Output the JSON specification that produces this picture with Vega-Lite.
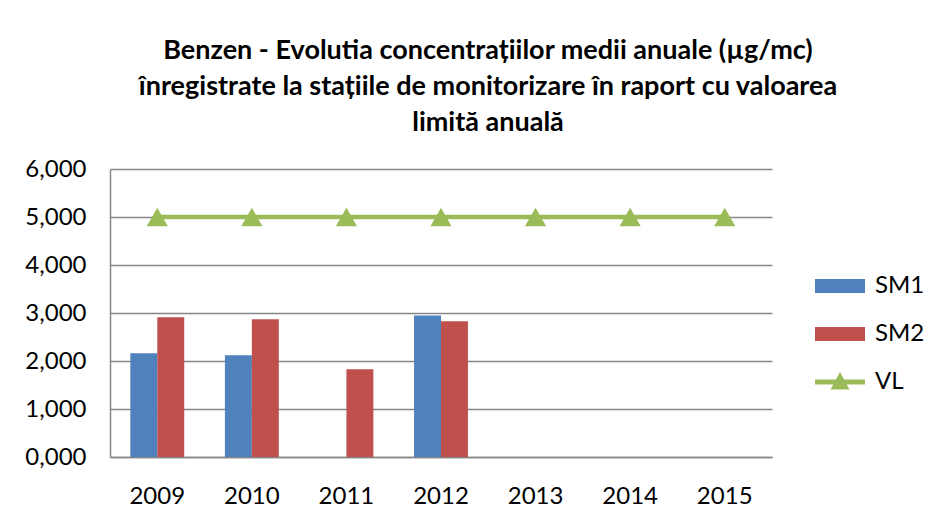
{
  "$schema": "https://vega.github.io/schema/vega-lite/v6.json",
  "autosize": {"type": "none"},
  "width": 662,
  "height": 288,
  "padding": {"left": 110, "top": 169, "right": 162, "bottom": 62},
  "background": "white",
  "title": {
    "text": ["Benzen - Evolutia concentrațiilor medii anuale (µg/mc)", "înregistrate la stațiile de monitorizare în raport cu valoarea", "limită anuală"],
    "font": "Lato",
    "fontSize": 27,
    "fontWeight": "bold",
    "color": "black",
    "lineHeight": 36,
    "anchor": "middle",
    "dx": 47,
    "offset": 20
  },
  "config": {
    "view": {"stroke": null},
    "font": "Lato",
    "axis": {
      "labelFont": "Lato",
      "labelFontSize": 24,
      "labelColor": "black",
      "ticks": false,
      "domainColor": "#868686",
      "domainWidth": 1.5,
      "gridColor": "#868686",
      "gridWidth": 1.5,
      "title": null
    },
    "legend": {
      "labelFont": "Lato",
      "labelFontSize": 24,
      "labelColor": "black"
    }
  },
  "datasets": {
    "bars": [
      {"year": "2009", "series": "SM1", "value": 2.16},
      {"year": "2009", "series": "SM2", "value": 2.91},
      {"year": "2010", "series": "SM1", "value": 2.12},
      {"year": "2010", "series": "SM2", "value": 2.87},
      {"year": "2011", "series": "SM2", "value": 1.83},
      {"year": "2012", "series": "SM1", "value": 2.95},
      {"year": "2012", "series": "SM2", "value": 2.83}
    ],
    "vl": [
      {"year": "2009", "series": "VL", "value": 5},
      {"year": "2010", "series": "VL", "value": 5},
      {"year": "2011", "series": "VL", "value": 5},
      {"year": "2012", "series": "VL", "value": 5},
      {"year": "2013", "series": "VL", "value": 5},
      {"year": "2014", "series": "VL", "value": 5},
      {"year": "2015", "series": "VL", "value": 5}
    ]
  },
  "encoding": {
    "x": {
      "field": "year",
      "type": "nominal",
      "scale": {"domain": ["2009", "2010", "2011", "2012", "2013", "2014", "2015"], "paddingInner": 0.43, "paddingOuter": 0.215},
      "axis": {"labelAngle": 0, "labelPadding": 27, "grid": false}
    },
    "y": {
      "field": "value",
      "type": "quantitative",
      "scale": {"domain": [0, 6], "nice": false},
      "axis": {"values": [0, 1, 2, 3, 4, 5, 6], "labelExpr": "replace(format(datum.value, '.3f'), '.', ',')", "labelPadding": 24, "grid": true}
    }
  },
  "layer": [
    {
      "data": {"name": "bars"},
      "mark": {"type": "bar"},
      "encoding": {
        "xOffset": {"field": "series", "type": "nominal", "scale": {"domain": ["SM1", "SM2"]}},
        "color": {
          "field": "series",
          "type": "nominal",
          "scale": {"domain": ["SM1", "SM2", "VL"], "range": ["#4F81BD", "#C0504D", "#9BBB59"]},
          "legend": {
            "title": null,
            "orient": "none",
            "legendX": 705,
            "legendY": 92,
            "symbolSize": 2500,
            "symbolType": "M-1,-0.28H1V0.28H-1Z",
            "symbolStrokeWidth": 0,
            "labelOffset": 10,
            "rowPadding": 11,
            "encode": {
              "symbols": {
                "update": {
                  "shape": {"signal": "datum.value === 'VL' ? 'M-1,-0.1H1V0.1H-1Z M-0.38,0.3L0,-0.4L0.38,0.3Z' : 'M-1,-0.28H1V0.28H-1Z'"}
                }
              }
            }
          }
        }
      }
    },
    {
      "data": {"name": "vl"},
      "mark": {"type": "line", "color": "#9BBB59", "strokeWidth": 4.5},
      "encoding": {}
    },
    {
      "data": {"name": "vl"},
      "mark": {"type": "point", "shape": "triangle-up", "filled": true, "color": "#9BBB59", "size": 450, "opacity": 1},
      "encoding": {}
    }
  ]
}
